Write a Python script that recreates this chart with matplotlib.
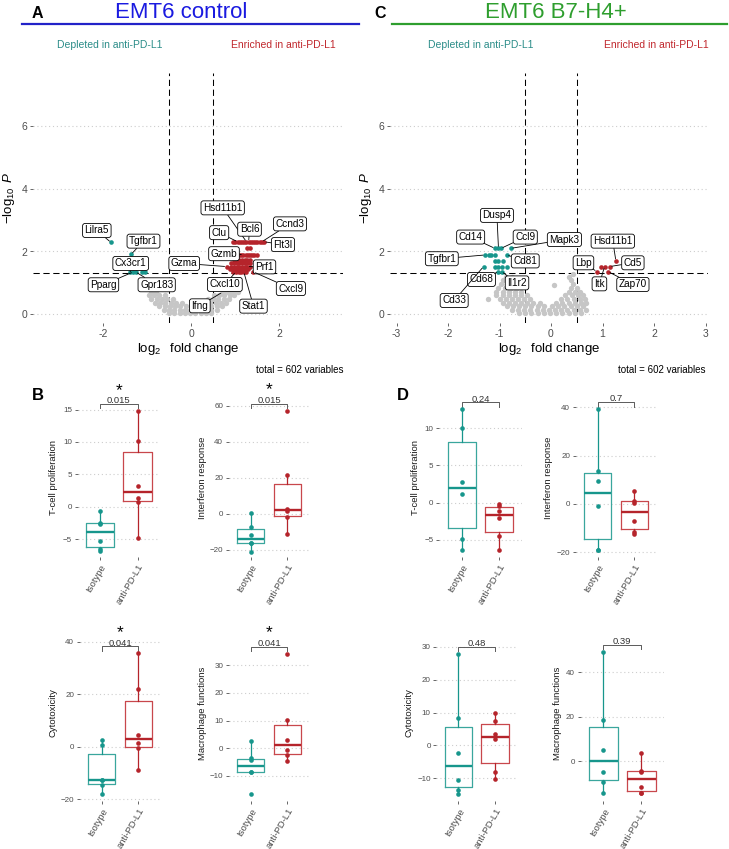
import matplotlib
matplotlib.use("Agg")
import matplotlib.pyplot as plt

W, H = 729, 849

plt.rcParams.update({
    "font.family": ["Liberation Sans", "DejaVu Sans"],
    "mathtext.fontset": "custom",
    "mathtext.rm": "Liberation Sans",
    "mathtext.it": "Liberation Sans:italic",
    "mathtext.bf": "Liberation Sans:bold",
})

TEAL = "#17968C"
TEAL_BOX = "#3AA69D"
RED = "#B5242B"
RED_BOX = "#C8474C"
GRAY_PT = "#C6C6C6"
TICK_C = "#4D4D4D"
GRID_C = "#CDCDCD"

# ---------------- volcano data (log2 FC, -log10 P) ----------------
# panel A, EMT6 control: non-significant genes, by row of -log10 P
GRAY_A_ROWS = [
    (0.04, [-0.5, -0.38, -0.26, -0.14, -0.02, 0.1, 0.22, 0.34, 0.46]),
    (0.14, [-0.62, -0.5, -0.38, -0.26, -0.14, -0.02, 0.1, 0.22, 0.34, 0.46, 0.58]),
    (0.25, [-0.72, -0.6, -0.48, -0.36, -0.24, -0.12, 0.1, 0.22, 0.34, 0.46, 0.58, 0.7]),
    (0.36, [-0.82, -0.7, -0.58, -0.46, -0.34, -0.2, 0.2, 0.32, 0.44, 0.56, 0.68, 0.8]),
    (0.48, [-0.9, -0.78, -0.66, -0.54, -0.42, 0.38, 0.5, 0.62, 0.74, 0.86]),
    (0.60, [-0.96, -0.84, -0.72, -0.6, 0.52, 0.64, 0.76, 0.88, 0.98]),
    (0.71, [-0.92, -0.8, 0.72, 0.84, 0.96, 1.06]),
    (0.83, [-0.86, 0.8, 0.92, 1.04]),
    (0.96, [0.88, 1.0, 1.08]),
    (1.10, [0.95, 1.08]),
]
TEAL_A_X = [-1.82, -1.36, -1.38, -1.31, -1.26, -1.11, -1.05]
TEAL_A_Y = [2.29, 1.91, 1.36, 1.35, 1.35, 1.34, 1.34]
RED_A_ROWS = [
    (2.31, [0.96, 1.01, 1.06, 1.11, 1.16, 1.21, 1.26, 1.31, 1.36, 1.41, 1.46, 1.51, 1.56, 1.61, 1.66]),
    (2.10, [1.28, 1.34]),
    (1.90, [0.94, 0.99, 1.04, 1.09, 1.14, 1.19, 1.24, 1.29, 1.34, 1.39, 1.44, 1.50]),
    (1.73, [0.98, 1.04, 1.10, 1.16, 1.22, 1.28, 1.34]),
    (1.62, [0.92, 0.98, 1.04, 1.10, 1.16, 1.22, 1.28, 1.34]),
    (1.52, [0.81, 0.92, 0.98, 1.04, 1.10, 1.16, 1.22, 1.28, 1.34]),
    (1.43, [0.88, 0.94, 1.00, 1.06, 1.12, 1.18, 1.24, 1.30]),
    (1.35, [0.96, 1.02, 1.08, 1.14, 1.20, 1.26, 1.42]),
]
# labelled genes: name, gene x, gene y
LAB_A_GENES = ["Lilra5", "Tgfbr1", "Cx3cr1", "Pparg", "Gpr183", "Hsd11b1", "Bcl6", "Ccnd3",
               "Flt3l", "Clu", "Gzmb", "Gzma", "Prf1", "Cxcl9", "Cxcl10", "Stat1", "Ifng"]
LAB_A_X = [-1.82, -1.36, -1.38, -1.31, -1.26, 1.26, 1.31, 1.61, 1.66, 1.06, 1.19, 0.81, 1.28,
           1.42, 1.02, 1.20, 0.72]
LAB_A_Y = [2.29, 1.91, 1.36, 1.35, 1.35, 2.31, 2.31, 2.31, 2.31, 2.31, 1.90, 1.52, 1.52, 1.35,
           1.35, 1.35, 0.71]

# panel C, EMT6 B7-H4+
GRAY_C_ROWS = [
    (0.04, [-0.62, -0.5, -0.38, -0.26, -0.14, -0.02, 0.1, 0.22, 0.34, 0.46, 0.58]),
    (0.14, [-0.76, -0.64, -0.52, -0.4, -0.28, -0.16, -0.04, 0.08, 0.2, 0.32, 0.44, 0.56, 0.68]),
    (0.25, [-0.86, -0.74, -0.62, -0.5, -0.38, -0.26, -0.14, 0.02, 0.14, 0.26, 0.38, 0.5, 0.62]),
    (0.36, [-0.94, -0.82, -0.7, -0.58, -0.46, -0.34, -0.22, 0.1, 0.22, 0.34, 0.46, 0.58, 0.68]),
    (0.48, [-1.22, -1.0, -0.88, -0.76, -0.64, -0.52, -0.4, 0.2, 0.32, 0.44, 0.56, 0.66]),
    (0.60, [-1.06, -0.94, -0.82, -0.7, -0.58, -0.46, 0.28, 0.4, 0.52, 0.62]),
    (0.72, [-1.06, -0.94, -0.82, -0.7, -0.58, 0.34, 0.46, 0.56]),
    (0.84, [-1.02, -0.9, -0.78, -0.66, 0.38, 0.5]),
    (0.92, [0.06]),
    (0.96, [-0.98, -0.86, -0.74, 0.42]),
    (1.08, [-0.94, -0.8, 0.38]),
    (1.20, [-0.88, -0.76, 0.34]),
    (1.28, [0.42]),
]
TEAL_C_X = [-1.09, -1.02, -0.97, -0.78, -1.28, -1.21, -1.16, -1.09, -0.86, -1.09, -1.02, -0.93,
            -1.31, -1.09, -1.02, -0.96, -0.86, -1.02, -0.96]
TEAL_C_Y = [2.10, 2.10, 2.10, 2.10, 1.89, 1.89, 1.89, 1.89, 1.89, 1.71, 1.71, 1.71,
            1.52, 1.52, 1.52, 1.52, 1.52, 1.36, 1.36]
RED_C_X = [0.89, 0.98, 1.04, 1.14, 1.11, 1.26]
RED_C_Y = [1.36, 1.52, 1.52, 1.52, 1.36, 1.70]
LAB_C_GENES = ["Dusp4", "Cd14", "Ccl9", "Mapk3", "Tgfbr1", "Cd81", "Cd68", "Il1r2", "Cd33",
               "Hsd11b1", "Cd5", "Lbp", "Itk", "Zap70"]
LAB_C_X = [-1.02, -1.09, -0.97, -0.78, -1.28, -0.86, -1.02, -0.96, -1.31, 1.26, 1.14, 0.89,
           1.04, 1.11]
LAB_C_Y = [2.10, 2.10, 2.10, 2.10, 1.89, 1.89, 1.36, 1.36, 1.52, 1.70, 1.52, 1.36, 1.52, 1.36]

# label box placement (data coords)
LABPOS_A = [(-2.14, 2.67), (-1.08, 2.33), (-1.37, 1.62), (-1.99, 0.94), (-0.78, 0.94),
            (0.72, 3.39), (1.33, 2.71), (2.25, 2.88), (2.09, 2.22), (0.64, 2.60), (0.75, 1.93),
            (-0.155, 1.62), (1.67, 1.51), (2.27, 0.82), (0.77, 0.95), (1.42, 0.26), (0.20, 0.27)]
LABPOS_C = [(-1.05, 3.15), (-1.56, 2.46), (-0.5, 2.46), (0.26, 2.38), (-2.12, 1.77),
            (-0.5, 1.70), (-1.35, 1.11), (-0.66, 1.00), (-1.88, 0.44), (1.2, 2.33),
            (1.59, 1.64), (0.63, 1.64), (0.94, 0.97), (1.59, 0.95)]

# ---------------- score data (per mouse) ----------------
GROUPS = ["Isotype", "anti-PD-L1"]
B_TCELL = ([-6.9, -6.6, -5.3, -2.6, -2.5, -0.7], [-4.8, 0.7, 1.4, 3.2, 10.2, 14.8])
B_IFN = ([-20.9, -16.3, -16.0, -11.7, -7.0, 0.7], [-11.1, -1.8, 1.9, 2.8, 21.5, 57.4])
B_CYTO = ([-18.1, -14.5, -12.8, -12.7, 0.5, 2.7], [-8.9, -0.4, 1.5, 4.5, 21.9, 35.6])
B_MAC = ([-16.5, -8.5, -8.4, -4.2, -3.6, 2.7], [-4.5, -2.4, -0.6, 3.0, 10.2, 34.2])
D_TCELL = ([-6.3, -4.9, 1.1, 2.8, 10.0, 12.5], [-6.4, -4.5, -2.1, -1.1, -0.45, -0.2])
D_IFN = ([-19.2, -19.2, -0.7, 9.5, 13.8, 39.2], [-12.4, -11.5, -6.9, 0.55, 1.24, 5.4])
D_CYTO = ([-14.9, -13.6, -10.6, -2.3, 8.2, 27.9], [-10.2, -8.0, 2.0, 3.3, 7.5, 9.75])
D_MAC = ([-14.4, -9.4, -4.9, 5.1, 18.6, 49.0], [-14.4, -14.1, -11.4, -4.8, -4.2, 3.6])
PVALS_B = ["0.015", "0.015", "0.041", "0.041"]
PVALS_D = ["0.24", "0.7", "0.48", "0.39"]
SCORE_NAMES = ["T-cell proliferation", "Interferon response", "Cytotoxicity", "Macrophage functions"]


def flatten(rows):
    xs, ys = [], []
    for y, row in rows:
        xs += row
        ys += [y] * len(row)
    return xs, ys


def px_axes(fig, l, t, r, b):
    return fig.add_axes([l / W, 1 - b / H, (r - l) / W, (b - t) / H])


def ftext(fig, x, y, s, **kw):
    fig.text(x / W, 1 - y / H, s, **kw)


def style(ax, fs):
    for sp in ax.spines.values():
        sp.set_visible(False)
    ax.tick_params(axis="both", colors=TICK_C, labelsize=fs, length=2.5, width=0.6, pad=1.5)
    ax.yaxis.grid(True, color=GRID_C, lw=0.8, ls=(0, (1, 2.5)))
    ax.set_axisbelow(True)


def volcano(ax, gray_rows, tx, ty, rx, ry, genes, gx, gy, labpos, xticks):
    gxs, gys = flatten(gray_rows)
    ax.scatter(gxs, gys, s=15, c=GRAY_PT, lw=0, zorder=2)
    ax.scatter(tx, ty, s=11, c=TEAL, lw=0, zorder=3)
    ax.scatter(rx, ry, s=11, c=RED, lw=0, zorder=3)
    for v in (-0.5, 0.5):
        ax.axvline(v, color="black", lw=0.75, ls=(0, (6, 3.5)), zorder=1)
    ax.axhline(1.301, color="black", lw=0.75, ls=(0, (6, 3.5)), zorder=1)
    for g, x, y, (lx, ly) in zip(genes, gx, gy, labpos):
        ax.annotate(g, xy=(x, y), xytext=(lx, ly), textcoords="data",
                    ha="center", va="center", fontsize=7.2, color="black",
                    bbox=dict(boxstyle="round,pad=0.2,rounding_size=0.25", fc="white",
                              ec="black", lw=0.6),
                    arrowprops=dict(arrowstyle="-", color="black", lw=0.6,
                                    shrinkA=0, shrinkB=1.5),
                    zorder=5)
    style(ax, 7.5)
    ax.set_xticks(xticks)
    ax.set_xticklabels([str(t) for t in xticks])
    ax.set_yticks([0, 2, 4, 6])
    ax.set_xlabel(r"$\log_{2}$  fold change", fontsize=9.5, labelpad=2)
    ax.set_ylabel(r"$-\log_{10}\ \mathit{P}$", fontsize=9.5, labelpad=3)


def boxpanel(ax, data, ylabel, pval, star, yticks):
    iso, anti = data
    bp = ax.boxplot([iso, anti], positions=[1, 2], widths=0.75, showfliers=False,
                    showcaps=False, whis=1.5)
    cols = [(TEAL_BOX, TEAL), (RED_BOX, RED)]
    for i, (cb, cm) in enumerate(cols):
        bp["boxes"][i].set(color=cb, lw=0.9)
        bp["medians"][i].set(color=cm, lw=1.7)
        for w in bp["whiskers"][2 * i:2 * i + 2]:
            w.set(color=cm, lw=0.9)
    ax.scatter([1] * len(iso), iso, s=11, c=TEAL, lw=0, zorder=4)
    ax.scatter([2] * len(anti), anti, s=11, c=RED, lw=0, zorder=4)
    allv = list(iso) + list(anti)
    rng = max(allv) - min(allv)
    yb = max(allv) + 0.05 * rng
    tk = 0.03 * rng
    ax.plot([1, 1, 2, 2], [yb - tk, yb, yb, yb - tk], color="#5A5A5A", lw=0.7,
            clip_on=False, zorder=3)
    ax.annotate(pval, (1.5, yb), xytext=(0, 0.6), textcoords="offset points",
                ha="center", va="baseline", fontsize=6.8, color="#333333",
                annotation_clip=False)
    if star:
        ax.annotate("*", (1.5, yb), xytext=(0, 6.5), textcoords="offset points",
                    ha="center", va="baseline", fontsize=12.5, color="black",
                    annotation_clip=False)
    style(ax, 5.8)
    ax.set_xlim(0.4, 2.6)
    ax.set_yticks(yticks)
    ax.set_xticks([1, 2])
    ax.set_xticklabels(GROUPS, rotation=60, ha="right", va="top",
                       rotation_mode="anchor", fontsize=6.8)
    ax.set_ylabel(ylabel, fontsize=6.8, color="#1A1A1A")


fig = plt.figure(figsize=(W / 100, H / 100), dpi=100)

# headers
ftext(fig, 37, 14, "A", fontsize=11.5, fontweight="bold", ha="center", va="center")
ftext(fig, 181, 12, "EMT6 control", fontsize=16, color="#1A1AE0", ha="center", va="center")
fig.add_artist(plt.Line2D([21.7 / W, 359.3 / W], [1 - 23.5 / H, 1 - 23.5 / H],
                          color="#2222C8", lw=1.6))
ftext(fig, 380, 14, "C", fontsize=11.5, fontweight="bold", ha="center", va="center")
ftext(fig, 556, 12, "EMT6 B7-H4+", fontsize=16, color="#2E9E2E", ha="center", va="center")
fig.add_artist(plt.Line2D([392 / W, 727 / W], [1 - 23.5 / H, 1 - 23.5 / H],
                          color="#2E9E2E", lw=1.6))
ftext(fig, 110, 45, "Depleted in anti-PD-L1", fontsize=7.5, color="#2A8C88", ha="center", va="center")
ftext(fig, 283, 45, "Enriched in anti-PD-L1", fontsize=7.5, color="#C0262C", ha="center", va="center")
ftext(fig, 481, 45, "Depleted in anti-PD-L1", fontsize=7.5, color="#2A8C88", ha="center", va="center")
ftext(fig, 656, 45, "Enriched in anti-PD-L1", fontsize=7.5, color="#C0262C", ha="center", va="center")

# volcano A
axA = px_axes(fig, 33, 73, 343, 323)
rax, ray = flatten(RED_A_ROWS)
volcano(axA, GRAY_A_ROWS, TEAL_A_X, TEAL_A_Y, rax, ray, LAB_A_GENES, LAB_A_X, LAB_A_Y,
        LABPOS_A, [-2, 0, 2])
axA.set_xlim((33 - 191) / 44, (343 - 191) / 44)
axA.set_ylim((314.3 - 323) / 31.4, (314.3 - 73) / 31.4)
ftext(fig, 343, 370, "total = 602 variables", fontsize=7, ha="right", va="center")

# volcano C
axC = px_axes(fig, 390, 73, 708, 323)
volcano(axC, GRAY_C_ROWS, TEAL_C_X, TEAL_C_Y, RED_C_X, RED_C_Y, LAB_C_GENES, LAB_C_X, LAB_C_Y,
        LABPOS_C, [-3, -2, -1, 0, 1, 2, 3])
axC.set_xlim((390 - 551) / 51.5, (708 - 551) / 51.5)
axC.set_ylim((314.3 - 323) / 31.4, (314.3 - 73) / 31.4)
ftext(fig, 706, 370, "total = 602 variables", fontsize=7, ha="right", va="center")

ftext(fig, 38, 395, "B", fontsize=12, fontweight="bold", ha="center", va="center")
ftext(fig, 403, 395, "D", fontsize=12, fontweight="bold", ha="center", va="center")

# box panels: pixel rect (l, t, r, b), zero pixel, pixels per unit, ylabel x pixel
PANELS = [
    (B_TCELL, 0, PVALS_B[0], True, [-5, 0, 5, 10, 15], (77.5, 398, 160, 557), 506.7, 6.48, 58),
    (B_IFN, 1, PVALS_B[1], True, [-20, 0, 20, 40, 60], (228.7, 398, 309.3, 557), 514, 1.8, 207),
    (B_CYTO, 2, PVALS_B[2], True, [-20, 0, 20, 40], (79.7, 625, 160.3, 801), 746.7, 2.62, 57),
    (B_MAC, 3, PVALS_B[3], True, [-10, 0, 10, 20, 30], (228.7, 625, 309.3, 801), 748.3, 2.77, 207),
    (D_TCELL, 0, PVALS_D[0], False, [-5, 0, 5, 10], (439.1, 398, 521.9, 557), 502.7, 7.46, 420),
    (D_IFN, 1, PVALS_D[1], False, [-20, 0, 20, 40], (575.7, 398, 656.3, 557), 504, 2.415, 553),
    (D_CYTO, 2, PVALS_D[2], False, [-10, 0, 10, 20, 30], (436.3, 625, 517, 801), 745.3, 3.28, 414),
    (D_MAC, 3, PVALS_D[3], False, [0, 20, 40], (580.5, 625, 664.1, 801), 761.3, 2.225, 562),
]
for data, k, pv, st, yt, (l, t, r, b), y0, unit, ylx in PANELS:
    ax = px_axes(fig, l, t, r, b)
    boxpanel(ax, data, SCORE_NAMES[k], pv, st, yt)
    ax.set_ylim((y0 - b) / unit, (y0 - t) / unit)
    ax.yaxis.set_label_coords((ylx - l) / (r - l), 0.5)

fig.savefig("out.png", dpi=100, facecolor="white")
